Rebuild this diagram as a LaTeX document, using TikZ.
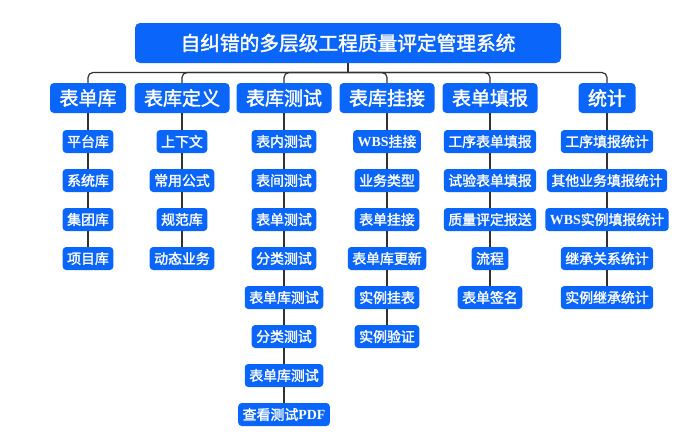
\documentclass[tikz,border=0pt]{standalone}
\usepackage{fontspec}
\setmainfont{Noto Sans CJK SC}[AutoFakeBold=1.8]
\newfontfamily\lat{Liberation Serif}
\definecolor{xblue}{RGB}{10,102,250}
\definecolor{xline}{RGB}{50,50,50}
\tikzset{
  root/.style={fill=xblue,text=white,rounded corners=5pt,minimum width=426pt,minimum height=40pt,font=\fontsize{19.7}{20}\selectfont\bfseries},
  head/.style={fill=xblue,text=white,rounded corners=4pt,inner xsep=9.5pt,inner ysep=0pt,minimum height=30pt,font=\fontsize{19}{19}\selectfont\bfseries},
  leaf/.style={fill=xblue,text=white,rounded corners=3.5pt,inner xsep=4.5pt,inner ysep=0pt,minimum height=23pt,font=\fontsize{13.9}{14}\selectfont\bfseries},
  link/.style={draw=xline,line width=1.2pt}
}
\begin{document}
\begin{tikzpicture}[x=1pt,y=-1pt]
\useasboundingbox[fill=white] (0,0) rectangle (692,442);
\node[root] (t) at (348,43) {自纠错的多层级工程质量评定管理系统};
\coordinate (bar) at (348,72.5);
\draw[link] (t.south)--(bar);
\foreach \c/\x/\h/\items in {
  1/88/表单库/{平台库,系统库,集团库,项目库},
  2/182/表库定义/{上下文,常用公式,规范库,动态业务},
  3/284/表库测试/{表内测试,表间测试,表单测试,分类测试,表单库测试,分类测试,表单库测试,查看测试{\lat PDF}},
  4/387/表库挂接/{{\lat WBS}挂接,业务类型,表单挂接,表单库更新,实例挂表,实例验证},
  5/490/表单填报/{工序表单填报,试验表单填报,质量评定报送,流程,表单签名},
  6/607/统计/{工序填报统计,其他业务填报统计,{\lat WBS}实例填报统计,继承关系统计,实例继承统计}}{
  \node[head] (c\c-0) at (\x,98) {\h};
  \draw[link,rounded corners=5pt] (bar) -| (c\c-0.north);
  \foreach \t [count=\i] in \items {
    \pgfmathtruncatemacro\p{\i-1}
    \node[leaf] (c\c-\i) at (\x,141.5+39*\i-39) {\t};
    \draw[link] (c\c-\p.south)--(c\c-\i.north);
  }
}
\end{tikzpicture}
\end{document}
